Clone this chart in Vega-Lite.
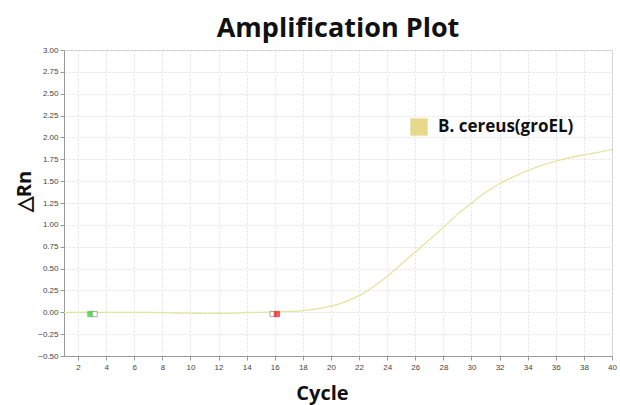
{
  "$schema": "https://vega.github.io/schema/vega-lite/v6.json",
  "autosize": {"type": "none"},
  "width": 548,
  "height": 306,
  "padding": {"left": 64, "top": 50, "right": 8, "bottom": 49},
  "background": "white",
  "title": {
    "text": "Amplification Plot",
    "font": "Open Sans",
    "fontSize": 27,
    "fontWeight": "bold",
    "color": "#111111",
    "anchor": "middle",
    "baseline": "alphabetic",
    "offset": 15,
    "dy": 33
  },
  "config": {
    "view": {"stroke": "#c8c8c8", "strokeWidth": 1},
    "axis": {
      "labelFont": "Liberation Sans",
      "labelFontSize": 8,
      "labelColor": "#444444",
      "labelOverlap": false,
      "domainColor": "#999999",
      "tickColor": "#999999",
      "tickSize": 4,
      "gridColor": "#e2e2e2",
      "gridDash": [2, 2],
      "titleFont": "Open Sans",
      "titleFontWeight": "bold",
      "titleFontSize": 20,
      "titleColor": "#111111"
    }
  },
  "datasets": {
    "curve": [
      {"cycle": 1, "rn": 0.0}, {"cycle": 2, "rn": 0.0}, {"cycle": 3, "rn": 0.0}, {"cycle": 4, "rn": 0.0},
      {"cycle": 5, "rn": 0.0}, {"cycle": 6, "rn": 0.0}, {"cycle": 7, "rn": -0.002}, {"cycle": 8, "rn": -0.005},
      {"cycle": 9, "rn": -0.008}, {"cycle": 10, "rn": -0.01}, {"cycle": 11, "rn": -0.012}, {"cycle": 12, "rn": -0.012},
      {"cycle": 13, "rn": -0.01}, {"cycle": 14, "rn": -0.005}, {"cycle": 15, "rn": 0.0}, {"cycle": 16, "rn": 0.004},
      {"cycle": 17, "rn": 0.01}, {"cycle": 18, "rn": 0.02}, {"cycle": 19, "rn": 0.04}, {"cycle": 20, "rn": 0.07},
      {"cycle": 21, "rn": 0.12}, {"cycle": 22, "rn": 0.19}, {"cycle": 23, "rn": 0.29}, {"cycle": 24, "rn": 0.41},
      {"cycle": 25, "rn": 0.55}, {"cycle": 26, "rn": 0.69}, {"cycle": 27, "rn": 0.83}, {"cycle": 28, "rn": 0.97},
      {"cycle": 29, "rn": 1.12}, {"cycle": 30, "rn": 1.25}, {"cycle": 31, "rn": 1.37}, {"cycle": 32, "rn": 1.47},
      {"cycle": 33, "rn": 1.55}, {"cycle": 34, "rn": 1.62}, {"cycle": 35, "rn": 1.68}, {"cycle": 36, "rn": 1.73},
      {"cycle": 37, "rn": 1.77}, {"cycle": 38, "rn": 1.80}, {"cycle": 39, "rn": 1.83}, {"cycle": 40, "rn": 1.86}
    ],
    "markers": [
      {"cycle": 2.88, "rn": -0.02, "kind": "start"},
      {"cycle": 3.18, "rn": -0.02, "kind": "open"},
      {"cycle": 15.85, "rn": -0.02, "kind": "open"},
      {"cycle": 16.15, "rn": -0.02, "kind": "end"}
    ]
  },
  "encoding": {
    "x": {
      "field": "cycle", "type": "quantitative",
      "scale": {"domain": [1, 40], "nice": false, "zero": false},
      "axis": {"values": [2,4,6,8,10,12,14,16,18,20,22,24,26,28,30,32,34,36,38,40], "tickCount": 40, "labelOverlap": false, "labelFlush": false, "labelBound": false, "title": "Cycle", "titlePadding": 12, "labelPadding": 3, "titleX": 258}
    },
    "y": {
      "field": "rn", "type": "quantitative",
      "scale": {"domain": [-0.5, 3], "nice": false, "zero": false},
      "axis": {"values": [-0.5,-0.25,0,0.25,0.5,0.75,1,1.25,1.5,1.75,2,2.25,2.5,2.75,3], "tickCount": 40, "labelOverlap": false, "labelFlush": false, "labelBound": false, "format": ".2f", "title": "△Rn", "titleX": -40, "titleY": 141, "titleAngle": -90, "titleAlign": "center", "titleBaseline": "middle", "labelPadding": 2}
    }
  },
  "layer": [
    {
      "data": {"name": "curve"},
      "mark": {"type": "line", "strokeWidth": 1.3, "interpolate": "monotone"},
      "encoding": {
        "color": {
          "field": "series", "type": "nominal",
          "datum": "B. cereus(groEL)",
          "scale": {"range": ["#e6e3a0"]},
          "legend": {
            "title": null,
            "orient": "none",
            "legendX": 346,
            "legendY": 68,
            "symbolType": "square",
            "symbolSize": 300,
            "labelFont": "Open Sans",
            "labelFontSize": 17,
            "labelFontWeight": "bold",
            "labelColor": "#111111",
            "labelOffset": 10,
            "encode": {"symbols": {"update": {"fill": {"value": "#e8d98a"}, "stroke": {"value": "#e8d98a"}, "strokeWidth": {"value": 0}}}}
          }
        }
      }
    },
    {
      "data": {"name": "markers"},
      "mark": {"type": "point", "shape": "square", "size": 28, "filled": true, "strokeWidth": 1},
      "encoding": {
        "fill": {
          "field": "kind", "type": "nominal",
          "scale": {"domain": ["start", "open", "end"], "range": ["#22cc22", "#ffffff", "#ee1111"]},
          "legend": null
        },
        "stroke": {
          "field": "kind", "type": "nominal",
          "scale": {"domain": ["start", "open", "end"], "range": ["#22cc22", "#888888", "#ee1111"]},
          "legend": null
        }
      }
    }
  ]
}
